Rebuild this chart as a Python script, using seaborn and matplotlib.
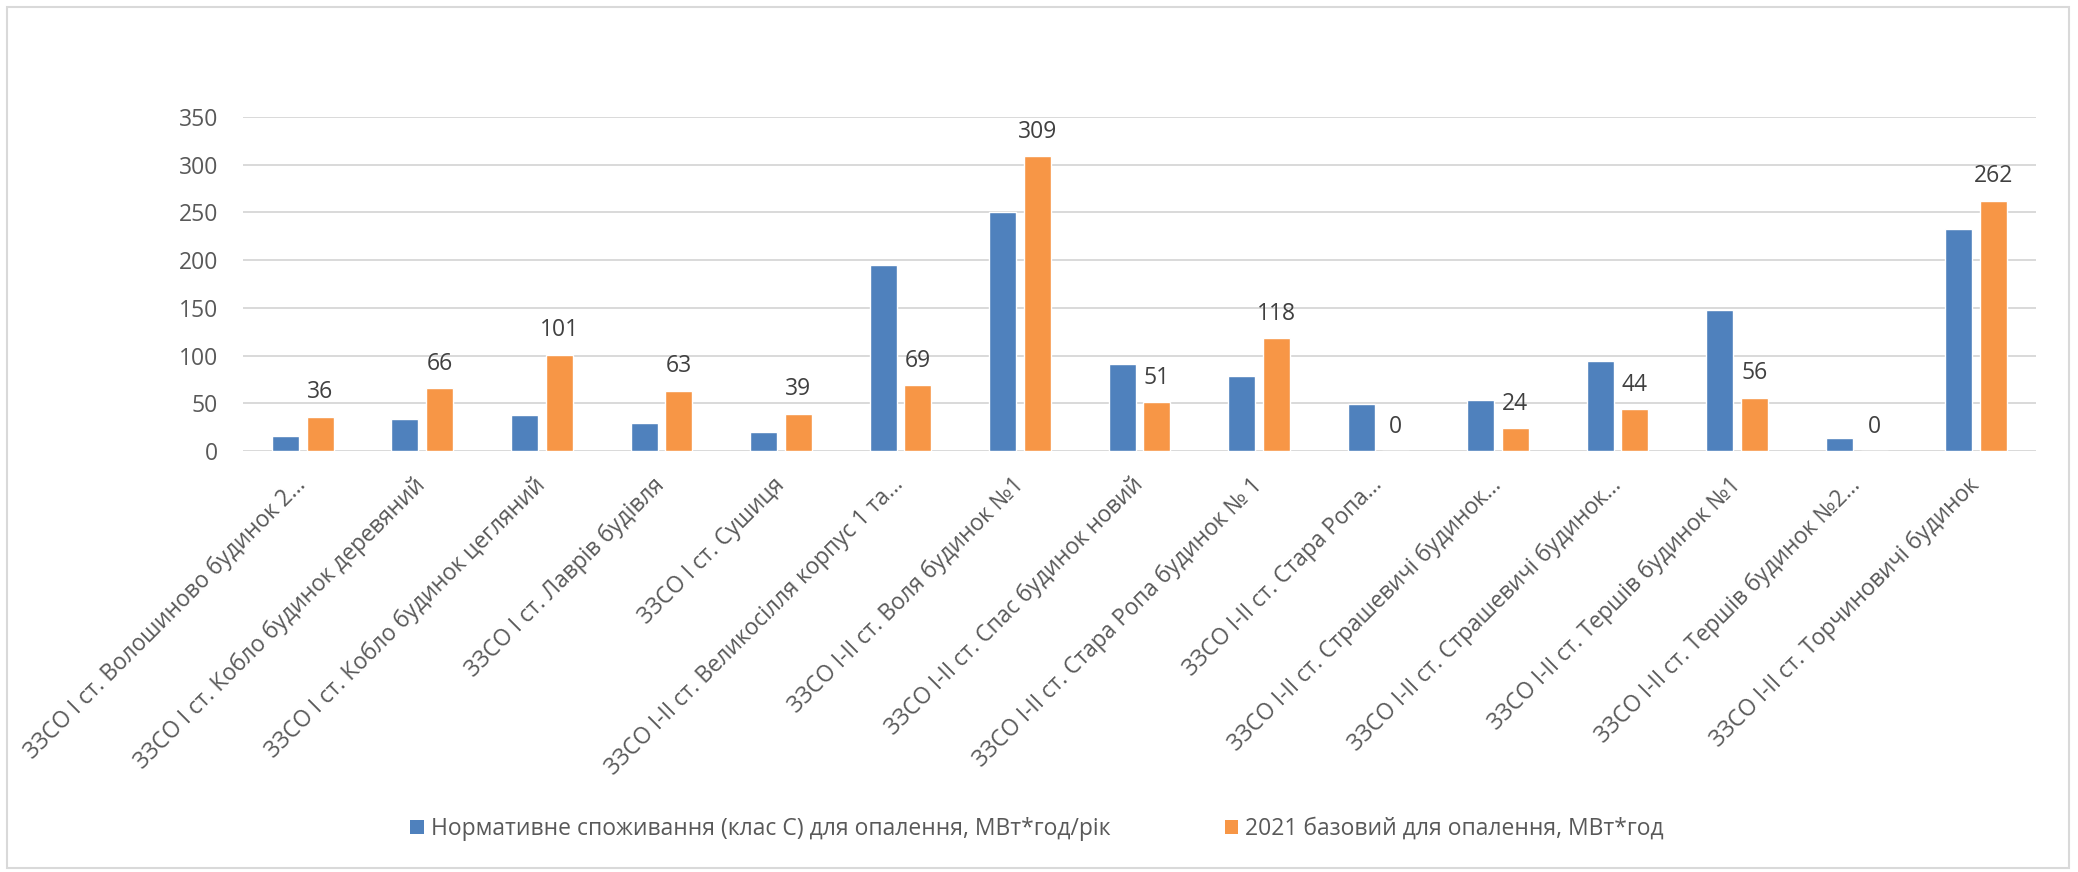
import matplotlib
matplotlib.use("Agg")
import matplotlib.pyplot as plt
import seaborn as sns
import pandas as pd
from matplotlib.patches import Rectangle, Patch

categories = [
    "ЗЗСО І ст. Волошиново будинок 2...",
    "ЗЗСО І ст. Кобло будинок деревяний",
    "ЗЗСО І ст. Кобло будинок цегляний",
    "ЗЗСО І ст. Лаврів будівля",
    "ЗЗСО І ст. Сушиця",
    "ЗЗСО І-ІІ ст. Великосілля корпус 1 та...",
    "ЗЗСО І-ІІ ст. Воля будинок №1",
    "ЗЗСО І-ІІ ст. Спас будинок новий",
    "ЗЗСО І-ІІ ст. Стара Ропа будинок № 1",
    "ЗЗСО І-ІІ ст. Стара Ропа...",
    "ЗЗСО І-ІІ ст. Страшевичі будинок...",
    "ЗЗСО І-ІІ ст. Страшевичі будинок...",
    "ЗЗСО І-ІІ ст. Тершів будинок №1",
    "ЗЗСО І-ІІ ст. Тершів будинок №2...",
    "ЗЗСО І-ІІ ст. Торчиновичі будинок",
]
normative = [16, 34, 38, 29, 20, 195, 250, 91, 79, 49, 53, 94, 148, 14, 233]
base_2021 = [36, 66, 101, 63, 39, 69, 309, 51, 118, 0, 24, 44, 56, 0, 262]
series_names = [
    "Нормативне споживання (клас С) для опалення, МВт*год/рік",
    "2021 базовий для опалення, МВт*год",
]
colors = ["#4F81BD", "#F79646"]
yticks = [0, 50, 100, 150, 200, 250, 300, 350]

sns.set_theme(style="white")
plt.rcParams["font.family"] = ["Open Sans", "DejaVu Sans"]

W, H = 2078, 872
fig = plt.figure(figsize=(W / 100, H / 100), dpi=100)
ax = fig.add_axes([243 / W, 1 - 451 / H, (2036 - 243) / W, (451 - 117) / H])

# x positions as unique keys to keep duplicate labels separate
keys = [f"c{i}" for i in range(len(categories))]
df = pd.DataFrame({
    "key": keys * 2,
    "value": normative + base_2021,
    "series": [series_names[0]] * len(keys) + [series_names[1]] * len(keys),
})
sns.barplot(data=df, x="key", y="value", hue="series", order=keys,
            hue_order=series_names, palette=colors, width=0.58, gap=0.22,
            saturation=1, ax=ax, legend=False, errorbar=None)

ax.set_ylim(0, 350)
ax.set_xlim(-0.5, len(keys) - 0.5)
ax.set_yticks(yticks)
ax.set_yticklabels([str(v) for v in yticks])
ax.yaxis.grid(True, color="#D9D9D9", linewidth=1.4)
ax.set_axisbelow(True)
for s in ax.spines.values():
    s.set_visible(False)
ax.set_xlabel("")
ax.set_ylabel("")
ax.tick_params(axis="y", length=0, pad=18, labelsize=16.5, labelcolor="#595959")
ax.tick_params(axis="x", length=0, pad=22, labelsize=16.3, labelcolor="#595959")
ax.set_xticks(range(len(keys)))
ax.set_xticklabels(categories, rotation=45, ha="right", va="center",
                   rotation_mode="anchor")

ax.bar_label(ax.containers[1], labels=[str(v) for v in base_2021],
             padding=9, fontsize=16.5, color="#404040")

handles = [Patch(facecolor=c, edgecolor="none") for c in colors]
fig.legend(handles, series_names, loc="center", bbox_to_anchor=(0.499, 1 - 829 / H),
           ncol=2, frameon=False, fontsize=16.5, labelcolor="#595959",
           handlelength=0.6, handleheight=0.6, handletextpad=0.3, columnspacing=5.0)

fig.patches.append(Rectangle((7 / W, 1 - 868 / H), (2069 - 7) / W, (868 - 7) / H,
                             transform=fig.transFigure, fill=False,
                             edgecolor="#D9D9D9", linewidth=1.5))

fig.savefig("out.png", dpi=100, facecolor="white")
